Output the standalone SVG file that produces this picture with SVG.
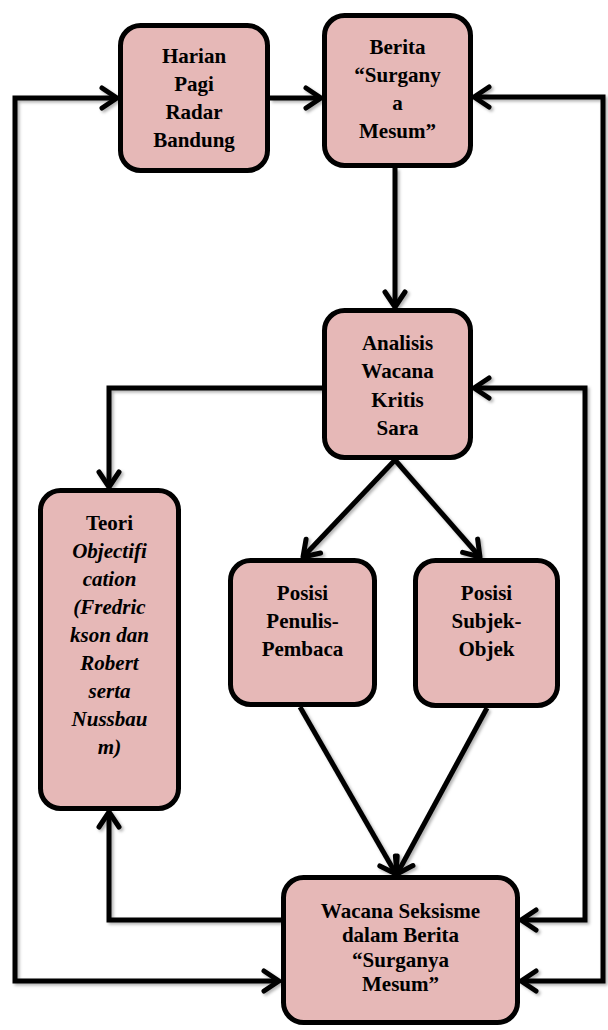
<svg xmlns="http://www.w3.org/2000/svg" width="608" height="1030" viewBox="0 0 608 1030">
<style>
.box{fill:#E6B8B7;stroke:#000;stroke-width:5}
.t{font-family:"Liberation Serif","Times New Roman",serif;font-weight:bold;font-size:21px;fill:#000;text-anchor:middle}
.i{font-style:italic}
.c{fill:none;stroke:#000;stroke-width:5;stroke-linejoin:miter}
</style>
<defs>
<marker id="ah" markerUnits="userSpaceOnUse" markerWidth="30" markerHeight="30" viewBox="-20 -15 25 30" refX="0" refY="0" orient="auto-start-reverse">
<path d="M-15,-10 L0,0 L-15,10" fill="none" stroke="#000" stroke-width="5" stroke-linecap="round" stroke-linejoin="round"/>
</marker>
<filter id="sh" x="-10%" y="-10%" width="120%" height="120%">
<feDropShadow dx="2" dy="2" stdDeviation="1.5" flood-color="#000" flood-opacity="0.3"/>
</filter>
</defs>
<g id="connectors" filter="url(#sh)">
<path class="c" d="M279,981 H15 V98 H117" marker-start="url(#ah)" marker-end="url(#ah)"/>
<path class="c" d="M270,98 H321" marker-end="url(#ah)"/>
<path class="c" d="M474,97 H603 V981 H521" marker-start="url(#ah)" marker-end="url(#ah)"/>
<path class="c" d="M395,168 V307" marker-end="url(#ah)"/>
<path class="c" d="M322,388 H109 V487" marker-end="url(#ah)"/>
<path class="c" d="M521,920 H585 V388 H474" marker-start="url(#ah)" marker-end="url(#ah)"/>
<path class="c" d="M281,920 H109 V812" marker-end="url(#ah)"/>
<path class="c" d="M395,460 L303,557" marker-end="url(#ah)"/>
<path class="c" d="M395,460 L480,557" marker-end="url(#ah)"/>
<path class="c" d="M300,707 L396,874" marker-end="url(#ah)"/>
<path class="c" d="M487,708 L397,874" marker-end="url(#ah)"/>
</g>
<g id="harian">
<rect class="box" x="120.5" y="25.5" width="147" height="145" rx="20"/>
<text class="t" x="194" y="63">Harian</text>
<text class="t" x="194" y="91">Pagi</text>
<text class="t" x="194" y="119">Radar</text>
<text class="t" x="194" y="147">Bandung</text>
</g>
<g id="berita">
<rect class="box" x="324.5" y="15.5" width="146" height="150" rx="20"/>
<text class="t" x="397.5" y="54">Berita</text>
<text class="t" x="397.5" y="82">“Surgany</text>
<text class="t" x="397.5" y="110">a</text>
<text class="t" x="397.5" y="138">Mesum”</text>
</g>
<g id="analisis">
<rect class="box" x="324.5" y="310.5" width="146" height="147" rx="20"/>
<text class="t" x="397.5" y="350">Analisis</text>
<text class="t" x="397.5" y="378">Wacana</text>
<text class="t" x="397.5" y="407">Kritis</text>
<text class="t" x="397.5" y="435">Sara</text>
</g>
<g id="teori">
<rect class="box" x="40.5" y="490.5" width="138" height="318" rx="20"/>
<text class="t" x="109.5" y="530">Teori</text>
<text class="t i" x="109.5" y="558">Objectifi</text>
<text class="t i" x="109.5" y="586">cation</text>
<text class="t i" x="109.5" y="614">(Fredric</text>
<text class="t i" x="109.5" y="642">kson dan</text>
<text class="t i" x="109.5" y="670">Robert</text>
<text class="t i" x="109.5" y="698">serta</text>
<text class="t i" x="109.5" y="726">Nussbau</text>
<text class="t i" x="109.5" y="754">m)</text>
</g>
<g id="penulis">
<rect class="box" x="230.5" y="560.5" width="144" height="144" rx="20"/>
<text class="t" x="302.5" y="600">Posisi</text>
<text class="t" x="302.5" y="628">Penulis-</text>
<text class="t" x="302.5" y="656">Pembaca</text>
</g>
<g id="subjek">
<rect class="box" x="415.5" y="560.5" width="142" height="145" rx="20"/>
<text class="t" x="486.5" y="600">Posisi</text>
<text class="t" x="486.5" y="628">Subjek-</text>
<text class="t" x="486.5" y="656">Objek</text>
</g>
<g id="wacana">
<rect class="box" x="283.5" y="877.5" width="234" height="145" rx="20"/>
<text class="t" x="400.5" y="918">Wacana Seksisme</text>
<text class="t" x="400.5" y="942">dalam Berita</text>
<text class="t" x="400.5" y="967">“Surganya</text>
<text class="t" x="400.5" y="991">Mesum”</text>
</g>
</svg>
